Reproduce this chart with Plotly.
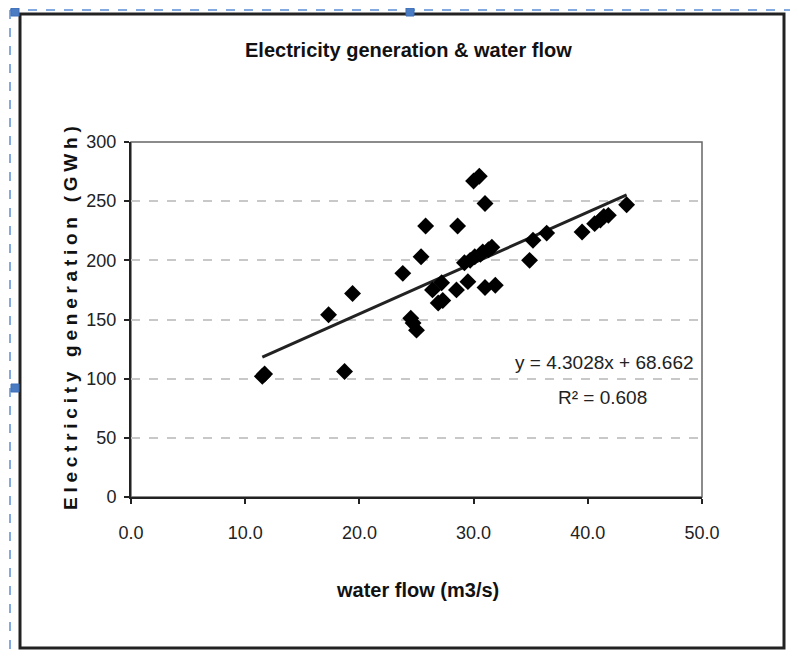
import plotly.graph_objects as go

# ---- data ----
water_flow = [11.5, 11.7, 17.3, 19.4, 18.7, 23.8, 24.5, 24.7, 25.0, 25.4,
              25.8, 26.4, 26.9, 27.3, 27.2, 28.5, 28.6, 29.5, 29.2, 29.7,
              30.1, 30.6, 30.8, 31.3, 31.6, 30.0, 30.5, 31.0, 31.0, 31.9,
              34.9, 35.2, 36.4, 39.5, 40.6, 41.1, 41.4, 41.8, 43.4]
electricity = [102, 104, 154, 172, 106, 189, 151, 147, 141, 203,
               229, 175, 164, 166, 181, 175, 229, 182, 198, 200,
               203, 205, 207, 209, 211, 267, 271, 248, 177, 179,
               200, 217, 223, 224, 231, 234, 237, 238, 247]
slope = 4.3028
intercept = 68.662
r_squared = 0.608
x_ticks = [0, 10, 20, 30, 40, 50]
y_ticks = [0, 50, 100, 150, 200, 250, 300]

TITLE = "Electricity generation & water flow"
X_TITLE = "water flow (m3/s)"
Y_TITLE = "Electricity generation (GWh)"

OFF = 8  # page body margin
W, H = 798 - OFF, 657 - OFF
L, R, T, B = 131, 702, 142, 497  # plot area in screenshot pixels

def px(xp):
    return (xp - L) / (R - L)

def py(yp):
    return (B - yp) / (B - T)

FONT = "Liberation Sans, Arial, sans-serif"
sp = "\u2005"
y_title_spaced = sp.join(list(Y_TITLE))

x_min, x_max = min(water_flow), max(water_flow)
trend_x = [x_min, x_max]
trend_y = [slope * v + intercept for v in trend_x]

fig = go.Figure()
fig.add_trace(go.Scatter(
    x=trend_x, y=trend_y, mode="lines",
    line=dict(color="#222222", width=3), hoverinfo="skip", showlegend=False))
fig.add_trace(go.Scatter(
    x=water_flow, y=electricity, mode="markers",
    marker=dict(symbol="diamond", size=13, color="black"), showlegend=False))

shapes = [
    dict(type="rect", xref="paper", yref="paper", x0=0, x1=1, y0=0, y1=1,
         line=dict(color="#666666", width=1.5), layer="below"),
    dict(type="rect", xref="paper", yref="paper",
         x0=px(20), x1=px(784), y0=py(648), y1=py(14),
         line=dict(color="#222222", width=3)),
    dict(type="line", xref="paper", yref="paper",
         x0=px(10), x1=px(800), y0=py(10), y1=py(10),
         line=dict(color="#5b8fd6", width=1.5, dash="dash")),
    dict(type="line", xref="paper", yref="paper",
         x0=px(10), x1=px(10), y0=py(10), y1=py(660),
         line=dict(color="#5b8fd6", width=1.5, dash="dash")),
]
for hx, hy in [(15, 12), (410, 12), (15, 388)]:
    shapes.append(dict(type="rect", xref="paper", yref="paper",
                       x0=px(hx - 4), x1=px(hx + 4), y0=py(hy + 4), y1=py(hy - 4),
                       line=dict(color="#3f6fb5", width=1), fillcolor="#4a7cc4"))

annotations = [
    dict(text="<b>" + TITLE + "</b>", xref="paper", yref="paper",
         x=px(408), y=py(50), showarrow=False, xanchor="center", yanchor="middle",
         font=dict(family=FONT, size=20, color="#111111")),
    dict(text="<b>" + X_TITLE + "</b>", xref="paper", yref="paper",
         x=px(417), y=py(590), showarrow=False, xanchor="center", yanchor="middle",
         font=dict(family=FONT, size=20, color="#111111")),
    dict(text="<b>" + y_title_spaced + "</b>", xref="paper", yref="paper",
         x=px(70), y=py(318), showarrow=False, xanchor="center", yanchor="middle",
         textangle=-90, font=dict(family=FONT, size=19, color="#111111")),
    dict(text=f"y = {slope}x + {intercept}", xref="paper", yref="paper",
         x=px(604), y=py(362), showarrow=False, xanchor="center", yanchor="middle",
         font=dict(family=FONT, size=19, color="#222222")),
    dict(text=f"R² = {r_squared}", xref="paper", yref="paper",
         x=px(602), y=py(397), showarrow=False, xanchor="center", yanchor="middle",
         font=dict(family=FONT, size=19, color="#222222")),
]

fig.update_layout(
    width=W, height=H,
    margin=dict(l=L - OFF, r=W - (R - OFF), t=T - OFF, b=H - (B - OFF), pad=0),
    paper_bgcolor="white", plot_bgcolor="white",
    shapes=shapes, annotations=annotations,
    xaxis=dict(range=[0, 50], tickvals=x_ticks, tickformat=".1f",
               showgrid=False, zeroline=False,
               showline=True, linecolor="#222222", linewidth=2,
               ticks="outside", ticklen=5, tickcolor="#222222", tickwidth=1.5,
               ticklabelstandoff=13,
               tickfont=dict(family=FONT, size=18, color="#222222")),
    yaxis=dict(range=[0, 300], tickvals=y_ticks,
               showgrid=True, gridcolor="#c8c8c8", gridwidth=1.5, griddash="dash",
               zeroline=False,
               showline=True, linecolor="#222222", linewidth=2,
               ticks="outside", ticklen=5, tickcolor="#222222", tickwidth=1.5,
               ticklabelstandoff=4,
               tickfont=dict(family=FONT, size=18, color="#222222")),
)

fig.write_html("out.html")
